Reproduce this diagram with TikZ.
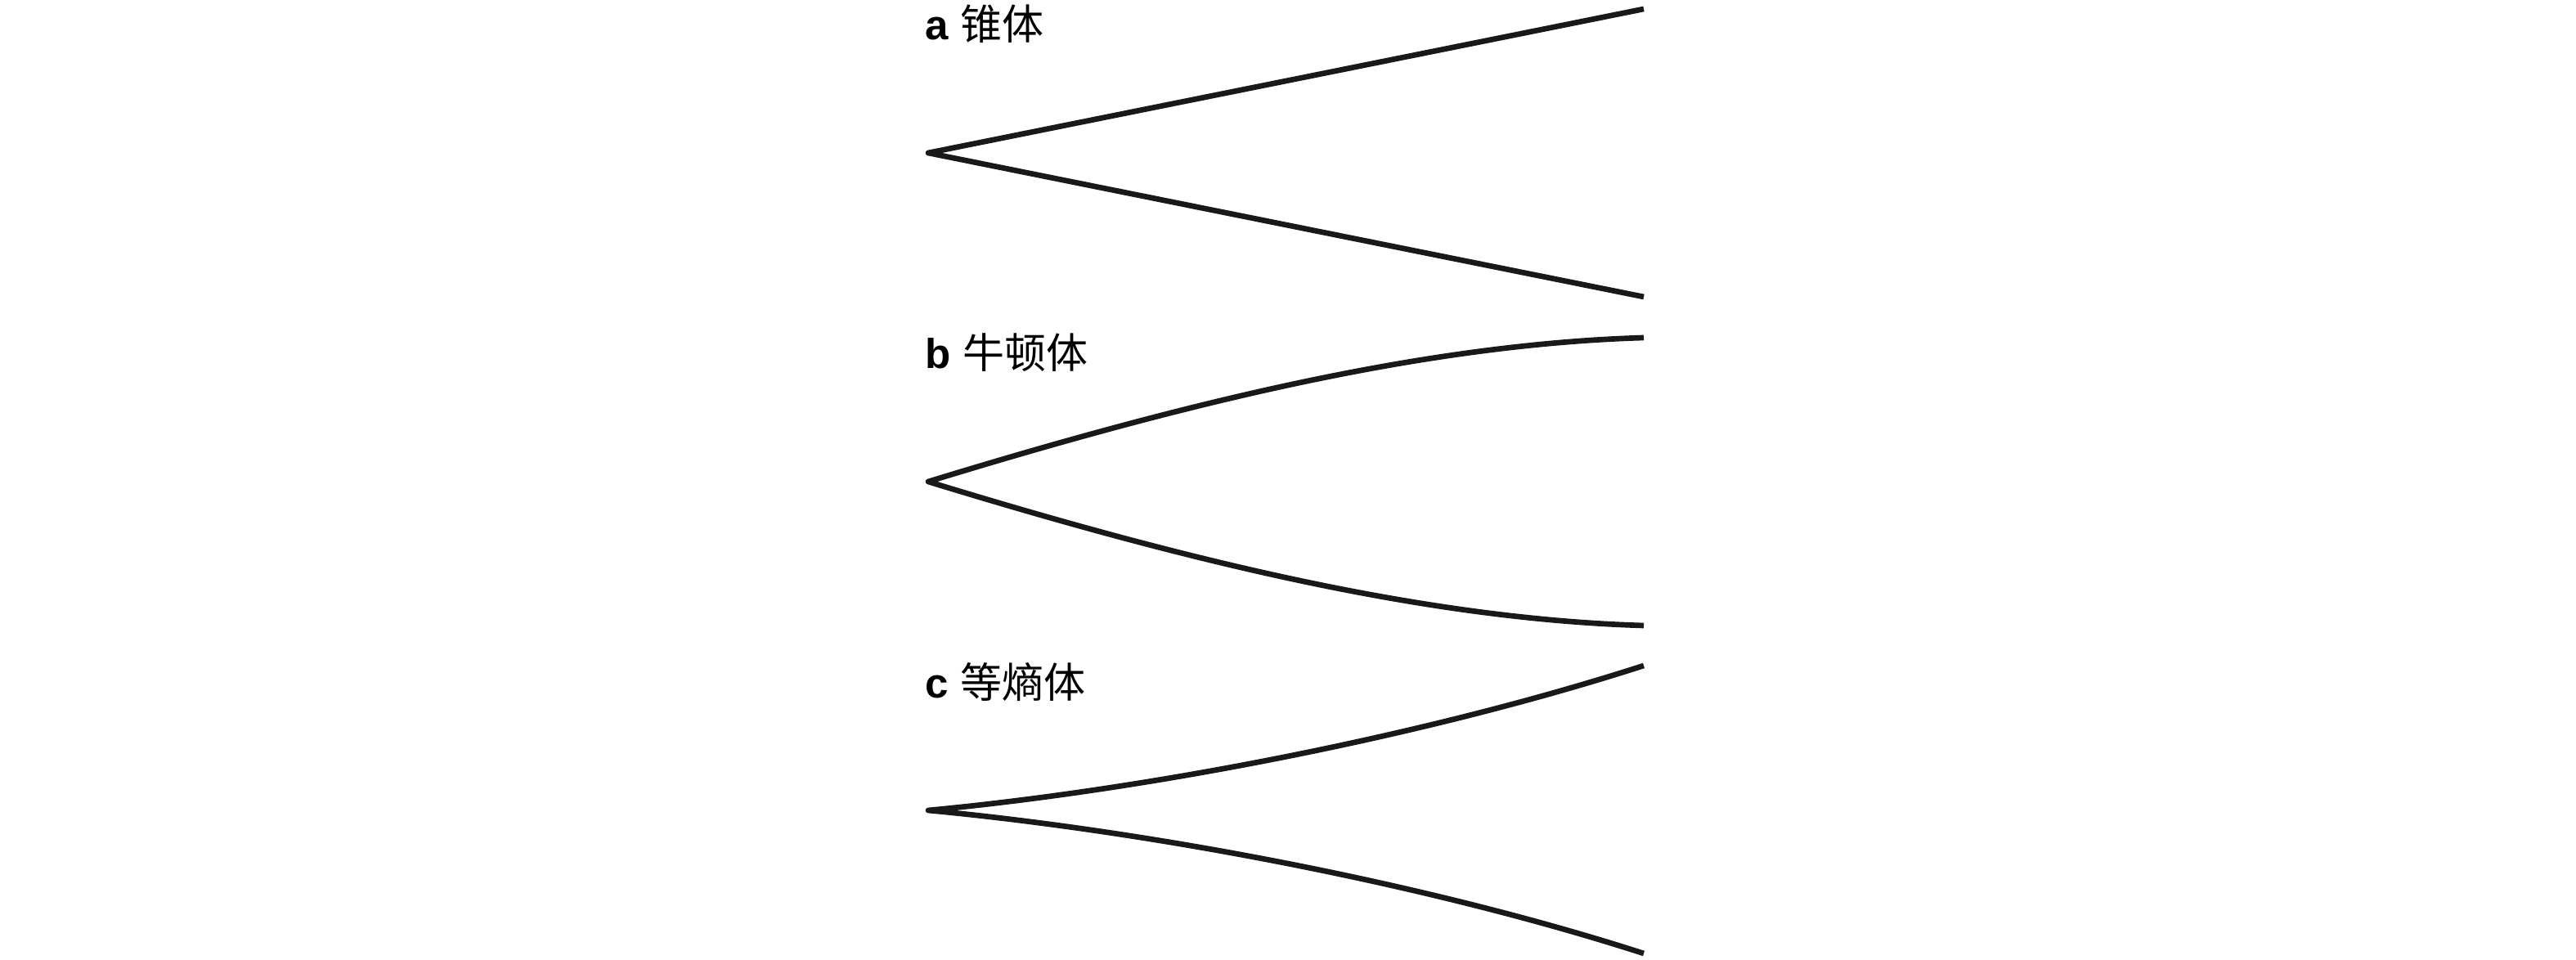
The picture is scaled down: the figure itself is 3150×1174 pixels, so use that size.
\documentclass[tikz,border=0pt]{standalone}
\usepackage{fontspec}
\setmainfont{Liberation Sans}
\newfontfamily\cjk{Noto Sans CJK SC}
\begin{document}
\begin{tikzpicture}[x=0.01cm,y=-0.01cm,
  body/.style={line width=1.9pt,line join=round,draw=black!90},
  lab/.style={anchor=base west,inner sep=0pt,font=\fontsize{14.5}{16}\selectfont}]
\useasboundingbox (0,0) rectangle (3150,1174);
% cone
\coordinate (tipA) at (1135,187);
\coordinate (aU) at (2010,11);
\coordinate (aL) at (2010,363);
% Newton body
\coordinate (tipB) at (1135,589);
\coordinate (bU) at (2010,413);
\coordinate (bL) at (2010,765);
% isentropic body
\coordinate (tipC) at (1135,991);
\coordinate (cU) at (2010,814);
\coordinate (cL) at (2010,1166);

\node[lab] (la) at (1131,49) {\textbf{a} {\cjk 锥体}};
\node[lab] (lb) at (1131,451) {\textbf{b} {\cjk 牛顿体}};
\node[lab] (lc) at (1131,854) {\textbf{c} {\cjk 等熵体}};

\draw[body] (aU) -- (tipA) -- (aL);
\draw[body] (bU) .. controls (1740,421) and (1445,494) .. (tipB)
  .. controls (1445,684) and (1740,757) .. (bL);
\draw[body] (cU) .. controls (1740,901) and (1400,966) .. (tipC)
  .. controls (1400,1016) and (1740,1079) .. (cL);
\end{tikzpicture}
\end{document}
